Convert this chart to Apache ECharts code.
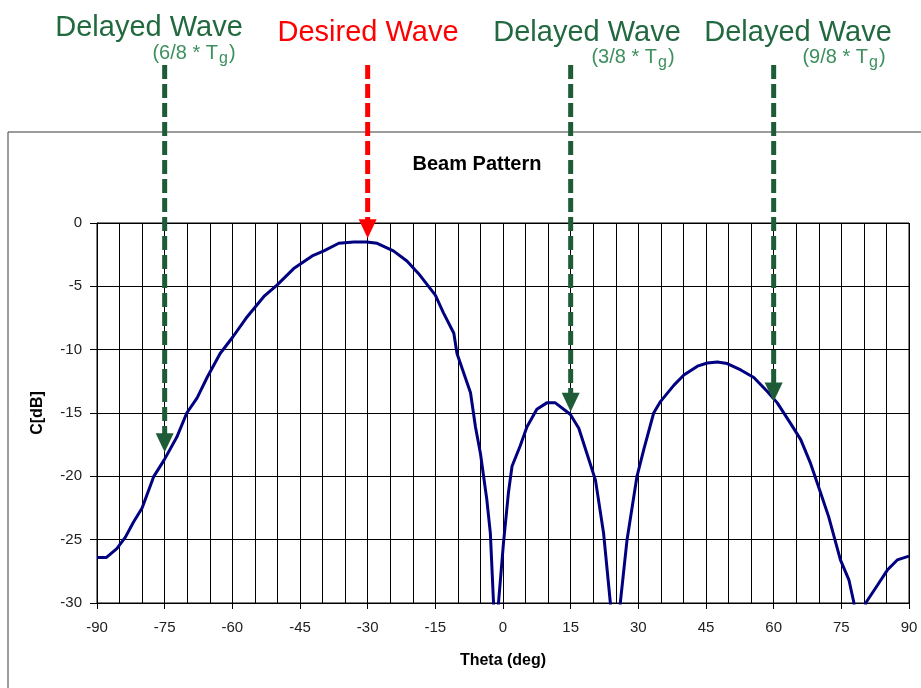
<!DOCTYPE html>
<html>
<head>
<meta charset="utf-8">
<script src="https://cdn.jsdelivr.net/npm/echarts@6/dist/echarts.min.js"></script>
<style>
html,body{margin:0;padding:0;background:#fff;}
#chart{width:921px;height:688px;}
</style>
</head>
<body>
<div id="chart"></div>
<script>
// ---- data ----
const theta = [-90,-87.9,-85.6,-83.7,-81.9,-80.0,-77.4,-75.1,-72.3,-70.1,-67.8,-65.6,-62.7,-59.9,-56.7,-53.0,-50.1,-46.4,-42.3,-39.7,-36.4,-33.1,-30.2,-27.9,-24.3,-21.3,-18.7,-15.0,-13.2,-10.9,-10.2,-7.2,-6.1,-5.0,-3.6,-2.8,-2.1,-1.5,-1.0,0.1,1.2,2.0,3.8,5.3,7.5,9.7,11.6,14.9,16.8,18.6,20.5,22.3,23.8,24.9,26.0,27.5,29.7,31.2,33.4,34.9,37.9,40.1,43.1,45.3,47.5,49.7,52.7,55.6,58.6,60.8,63.7,66.0,68.2,70.4,72.2,74.8,76.7,77.8,79.1,80.4,83.0,85.2,87.4,90];
const gainDb = [-26.4,-26.4,-25.7,-24.8,-23.6,-22.5,-20.0,-18.7,-16.9,-15.0,-13.8,-12.2,-10.3,-9.0,-7.4,-5.8,-4.9,-3.6,-2.6,-2.2,-1.6,-1.5,-1.5,-1.6,-2.2,-3.0,-4.0,-5.7,-7.1,-8.7,-10.3,-13.4,-16.1,-18.2,-21.8,-24.5,-30,-40,-30,-25.3,-21.3,-19.2,-17.6,-16.1,-14.7,-14.2,-14.2,-15.1,-16.2,-18.2,-20.3,-24.5,-30,-40,-30,-25.0,-20.0,-17.9,-15.0,-14.1,-12.8,-12.0,-11.3,-11.05,-10.97,-11.1,-11.6,-12.2,-13.3,-14.2,-15.8,-17.1,-19.0,-21.3,-23.2,-26.6,-28.2,-30,-40,-30,-28.6,-27.4,-26.6,-26.3];
const xTicks = [-90,-75,-60,-45,-30,-15,0,15,30,45,60,75,90];
const yTicks = [0,-5,-10,-15,-20,-25,-30];
// arrows: angle and arrow tip value (dB)
const arrowTheta = [-75,-30,15,60];
const arrowTip = [-18.1,-1.2,-14.9,-14.1];
const arrowKind = ['delayed','desired','delayed','delayed'];
// annotation texts
const waveTitles = ['Delayed Wave','Desired Wave','Delayed Wave','Delayed Wave'];
const waveDelays = ['6/8','','3/8','9/8'];

// ---- styles / layout ----
const GREEN = '#1e5c38';
const GREEN_TXT = '#22693f';
const GREEN_SUB = '#3d8f5e';
const RED = '#ff0000';
const ARROW_TOP = 65;
const titlePos = [[149,28],[368,33],[587,33],[798,33]];
const subPos = [[194,55],null,[633,59],[844,59]];

const chart = echarts.init(document.getElementById('chart'), null, {renderer:'canvas'});

const lineData = theta.map((t,i)=>[t,gainDb[i]]);
const arrowData = arrowTheta.map((t,i)=>[t,arrowTip[i]]);

const graphics = [
  {type:'rect', z:-10, shape:{x:8,y:132,width:1200,height:1000}, style:{fill:'none',stroke:'#3a3a3a',lineWidth:1}}
];
waveTitles.forEach((txt,i)=>{
  graphics.push({type:'text', x:titlePos[i][0], y:titlePos[i][1],
    style:{text:txt, fill: arrowKind[i]==='desired'?RED:GREEN_TXT, font:'29px "Liberation Sans", Arial, sans-serif', align:'center', verticalAlign:'middle'}});
  if (waveDelays[i]) {
    graphics.push({type:'text', x:subPos[i][0], y:subPos[i][1],
      style:{text:'{a|(' + waveDelays[i] + ' * T}{s|g}{a|)}', align:'center', verticalAlign:'middle',
        rich:{
          a:{fontSize:20, fontFamily:'"Liberation Sans", Arial, sans-serif', fill:GREEN_SUB, lineHeight:24, verticalAlign:'top'},
          s:{fontSize:16, fontFamily:'"Liberation Sans", Arial, sans-serif', fill:GREEN_SUB, lineHeight:24, padding:[5,1,0,1], verticalAlign:'bottom'}
        }}});
  }
});

const option = {
  animation:false,
  backgroundColor:'#fff',
  title:{text:'Beam Pattern', left:472, top:149, textAlign:'center',
    textStyle:{fontFamily:'"Liberation Sans", Arial, sans-serif', fontSize:20, fontWeight:'bold', color:'#000'}},
  grid:{left:97, top:223, width:812, height:380, show:true, borderColor:'#000', borderWidth:1, backgroundColor:'transparent'},
  xAxis:{type:'value', min:-90, max:90, interval:15,
    name:'Theta (deg)', nameLocation:'middle', nameGap:50,
    nameTextStyle:{fontFamily:'"Liberation Sans", Arial, sans-serif', fontSize:16, fontWeight:'bold', color:'#000'},
    axisLine:{show:true, onZero:false, lineStyle:{color:'#000', width:1}},
    axisTick:{show:true, inside:false, length:6, lineStyle:{color:'#000'}},
    axisLabel:{show:true, margin:17, fontFamily:'"Liberation Sans", Arial, sans-serif', fontSize:15, color:'#222',
      customValues: xTicks},
    splitLine:{show:true, lineStyle:{color:'#000', width:1}},
    minorTick:{show:false, splitNumber:3},
    minorSplitLine:{show:true, lineStyle:{color:'#000', width:1}}
  },
  yAxis:{type:'value', min:-30, max:0, interval:5,
    name:'C[dB]', nameLocation:'middle', nameGap:51,
    nameTextStyle:{fontFamily:'"Liberation Sans", Arial, sans-serif', fontSize:16, fontWeight:'bold', color:'#000'},
    axisLine:{show:true, onZero:false, lineStyle:{color:'#000', width:1}},
    axisTick:{show:true, inside:false, length:7, lineStyle:{color:'#000'}},
    axisLabel:{show:true, margin:15, fontFamily:'"Liberation Sans", Arial, sans-serif', fontSize:15, color:'#222',
      customValues: yTicks},
    splitLine:{show:true, lineStyle:{color:'#000', width:1}}
  },
  series:[
    {type:'line', data:lineData, symbol:'none', smooth:false, clip:true, z:3,
      lineStyle:{color:'#000080', width:3}},
    {type:'custom', data:arrowData, clip:false, z:5,
      renderItem:function(params, api){
        const p = api.coord([api.value(0), api.value(1)]);
        const color = arrowKind[params.dataIndex]==='desired' ? RED : GREEN;
        const hh = 19, hw = 18;
        return {type:'group', children:[
          {type:'line', shape:{x1:p[0], y1:ARROW_TOP, x2:p[0], y2:p[1]-hh+1},
            style:{stroke:color, lineWidth:5, lineDash:[14,5], fill:null}},
          {type:'polygon', shape:{points:[[p[0]-hw/2,p[1]-hh],[p[0]+hw/2,p[1]-hh],[p[0],p[1]]]},
            style:{fill:color, stroke:null}}
        ]};
      }}
  ],
  graphic: graphics
};
chart.setOption(option);
</script>
</body>
</html>
